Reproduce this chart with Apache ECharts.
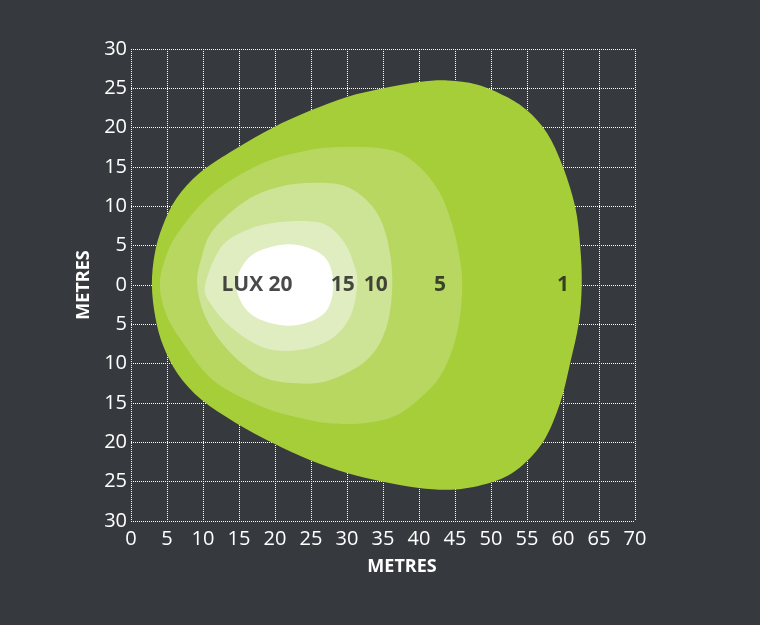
<!DOCTYPE html>
<html>
<head>
<meta charset="utf-8">
<script src="https://cdn.jsdelivr.net/npm/echarts@6/dist/echarts.min.js"></script>
<style>
html,body{margin:0;padding:0;background:#36393e;}
#chart{width:760px;height:625px;}
</style>
</head>
<body>
<div id="chart"></div>
<script>
// Tick values
const xTicks = [0,5,10,15,20,25,30,35,40,45,50,55,60,65,70];
const yTicks = [-30,-25,-20,-15,-10,-5,0,5,10,15,20,25,30];

// Isolux contours [x metres, y metres]
const lux1 = [[2.9,0],[3.3,4],[4.4,7.5],[6.3,11],[9.6,14.3],[14.5,17.3],[19.7,20],[25,22.2],[30,23.9],[35,25],[40,25.8],[44,26],[48,25.5],[52,24],[55,22.2],[57.8,19.3],[60,15],[61.7,9.9],[62.4,4.8],[62.6,0],[62.2,-4.8],[61,-9.9],[59.6,-15],[57.2,-20],[53.6,-23.5],[50,-25.1],[45,-26],[40,-25.8],[35,-25],[30,-23.9],[25,-22.3],[19.7,-20.1],[14.5,-17.5],[9.8,-14.6],[6.5,-11.3],[4.5,-7.8],[3.4,-4.2]];
const lux5 = [[4,0],[4.8,3.5],[6.8,7],[11.4,11.7],[18.3,15.5],[24,17],[28,17.5],[33,17.5],[37,16.9],[40.1,15],[42.9,11.7],[44.7,7.4],[45.7,3.2],[46,0],[45.7,-4],[44.7,-8],[43,-11.5],[40.6,-14],[37,-16.5],[33,-17.5],[28,-17.6],[24,-17],[18.3,-15.5],[11.4,-12.1],[6.8,-6.8],[4.8,-3.5]];
const lux10 = [[9.2,0],[9.8,3.5],[11.4,7],[16.1,10.8],[20.7,12.5],[25.3,13],[30,12.5],[33.6,9.9],[35.5,6.1],[36.3,0.6],[35.5,-5.3],[32.8,-9.5],[27.6,-12.1],[23,-12.5],[18.3,-11.7],[13.8,-8.6],[10.5,-4.4]];
const lux15 = [[10.3,0],[12.5,4.8],[16.1,7],[20.7,8],[26.3,7.9],[29.4,5.7],[31.1,2.3],[31.4,-0.3],[30.4,-4.1],[27.6,-7],[23,-8.3],[18.3,-7.9],[13.8,-5.3],[11,-2.3]];
const lux20 = [[14.6,0],[16.5,3.6],[20.7,5.1],[24.4,4.8],[27.2,3.2],[28.1,0],[27.2,-3.2],[24.4,-4.8],[20.7,-5.1],[16.5,-3.6]];

const contours = [lux1, lux5, lux10, lux15, lux20];
const contourColors = ['#a6ce39','#b7d760','#cde396','#e0edc0','#ffffff'];

// Contour labels
const labelText = ['LUX 20','15','10','5','1'];
const labelX = [17.5, 29.4, 34.0, 42.9, 60.0];
const labelY = [0, 0, 0, 0, 0];

const chart = echarts.init(document.getElementById('chart'));
const font = 'Open Sans';

// closed Catmull-Rom curve through pixel points, as SVG path data
function closedCurve(c){
  const n = c.length;
  let d = 'M' + c[0][0] + ' ' + c[0][1];
  for (let i = 0; i < n; i++){
    const p0 = c[(i - 1 + n) % n], p1 = c[i], p2 = c[(i + 1) % n], p3 = c[(i + 2) % n];
    const c1x = p1[0] + (p2[0] - p0[0]) / 6, c1y = p1[1] + (p2[1] - p0[1]) / 6;
    const c2x = p2[0] - (p3[0] - p1[0]) / 6, c2y = p2[1] - (p3[1] - p1[1]) / 6;
    d += 'C' + c1x + ' ' + c1y + ' ' + c2x + ' ' + c2y + ' ' + p2[0] + ' ' + p2[1];
  }
  return d + 'Z';
}

const series = contours.map(function(pts, i){
  return {
    type: 'custom',
    z: 2 + i,
    silent: true,
    data: pts,
    encode: {x: 0, y: 1},
    renderItem: function(params, api){
      if (params.dataIndex !== 0) return null;
      const coords = pts.map(function(p){ return api.coord(p); });
      return {
        type: 'path',
        shape: {pathData: closedCurve(coords)},
        style: {fill: contourColors[i]}
      };
    }
  };
});

series.push({
  type: 'scatter',
  z: 10,
  symbolSize: 0,
  silent: true,
  data: labelX.map(function(x, i){ return {value: [x, labelY[i]], name: labelText[i]}; }),
  label: {
    show: true,
    position: 'inside',
    formatter: '{b}',
    color: '#1b1b1b',
    fontFamily: font,
    fontWeight: 'bold',
    fontSize: 21
  }
});

chart.setOption({
  backgroundColor: '#36393e',
  animation: false,
  grid: {left: 131, right: 125, top: 49, bottom: 104},
  xAxis: {
    type: 'value', min: xTicks[0], max: xTicks[xTicks.length-1], interval: 5,
    name: 'METRES', nameLocation: 'middle', nameGap: 37,
    nameTextStyle: {color: '#ffffff', fontFamily: font, fontWeight: 'bold', fontSize: 18, padding: [0, 0, 0, 38]},
    axisLine: {show: false}, axisTick: {show: false},
    axisLabel: {color: '#ffffff', fontFamily: font, fontSize: 20, margin: 8},
    splitLine: {show: true, lineStyle: {color: '#ffffff', type: 'dotted', width: 1}}
  },
  yAxis: {
    type: 'value', min: yTicks[0], max: yTicks[yTicks.length-1], interval: 5,
    name: 'METRES', nameLocation: 'middle', nameGap: 34,
    nameTextStyle: {color: '#ffffff', fontFamily: font, fontWeight: 'bold', fontSize: 18},
    axisLine: {show: false}, axisTick: {show: false},
    axisLabel: {color: '#ffffff', fontFamily: font, fontSize: 20, margin: 4,
      formatter: function(v){ return String(Math.abs(v)); }},
    splitLine: {show: true, lineStyle: {color: '#ffffff', type: 'dotted', width: 1}}
  },
  series: series
});
</script>
</body>
</html>
